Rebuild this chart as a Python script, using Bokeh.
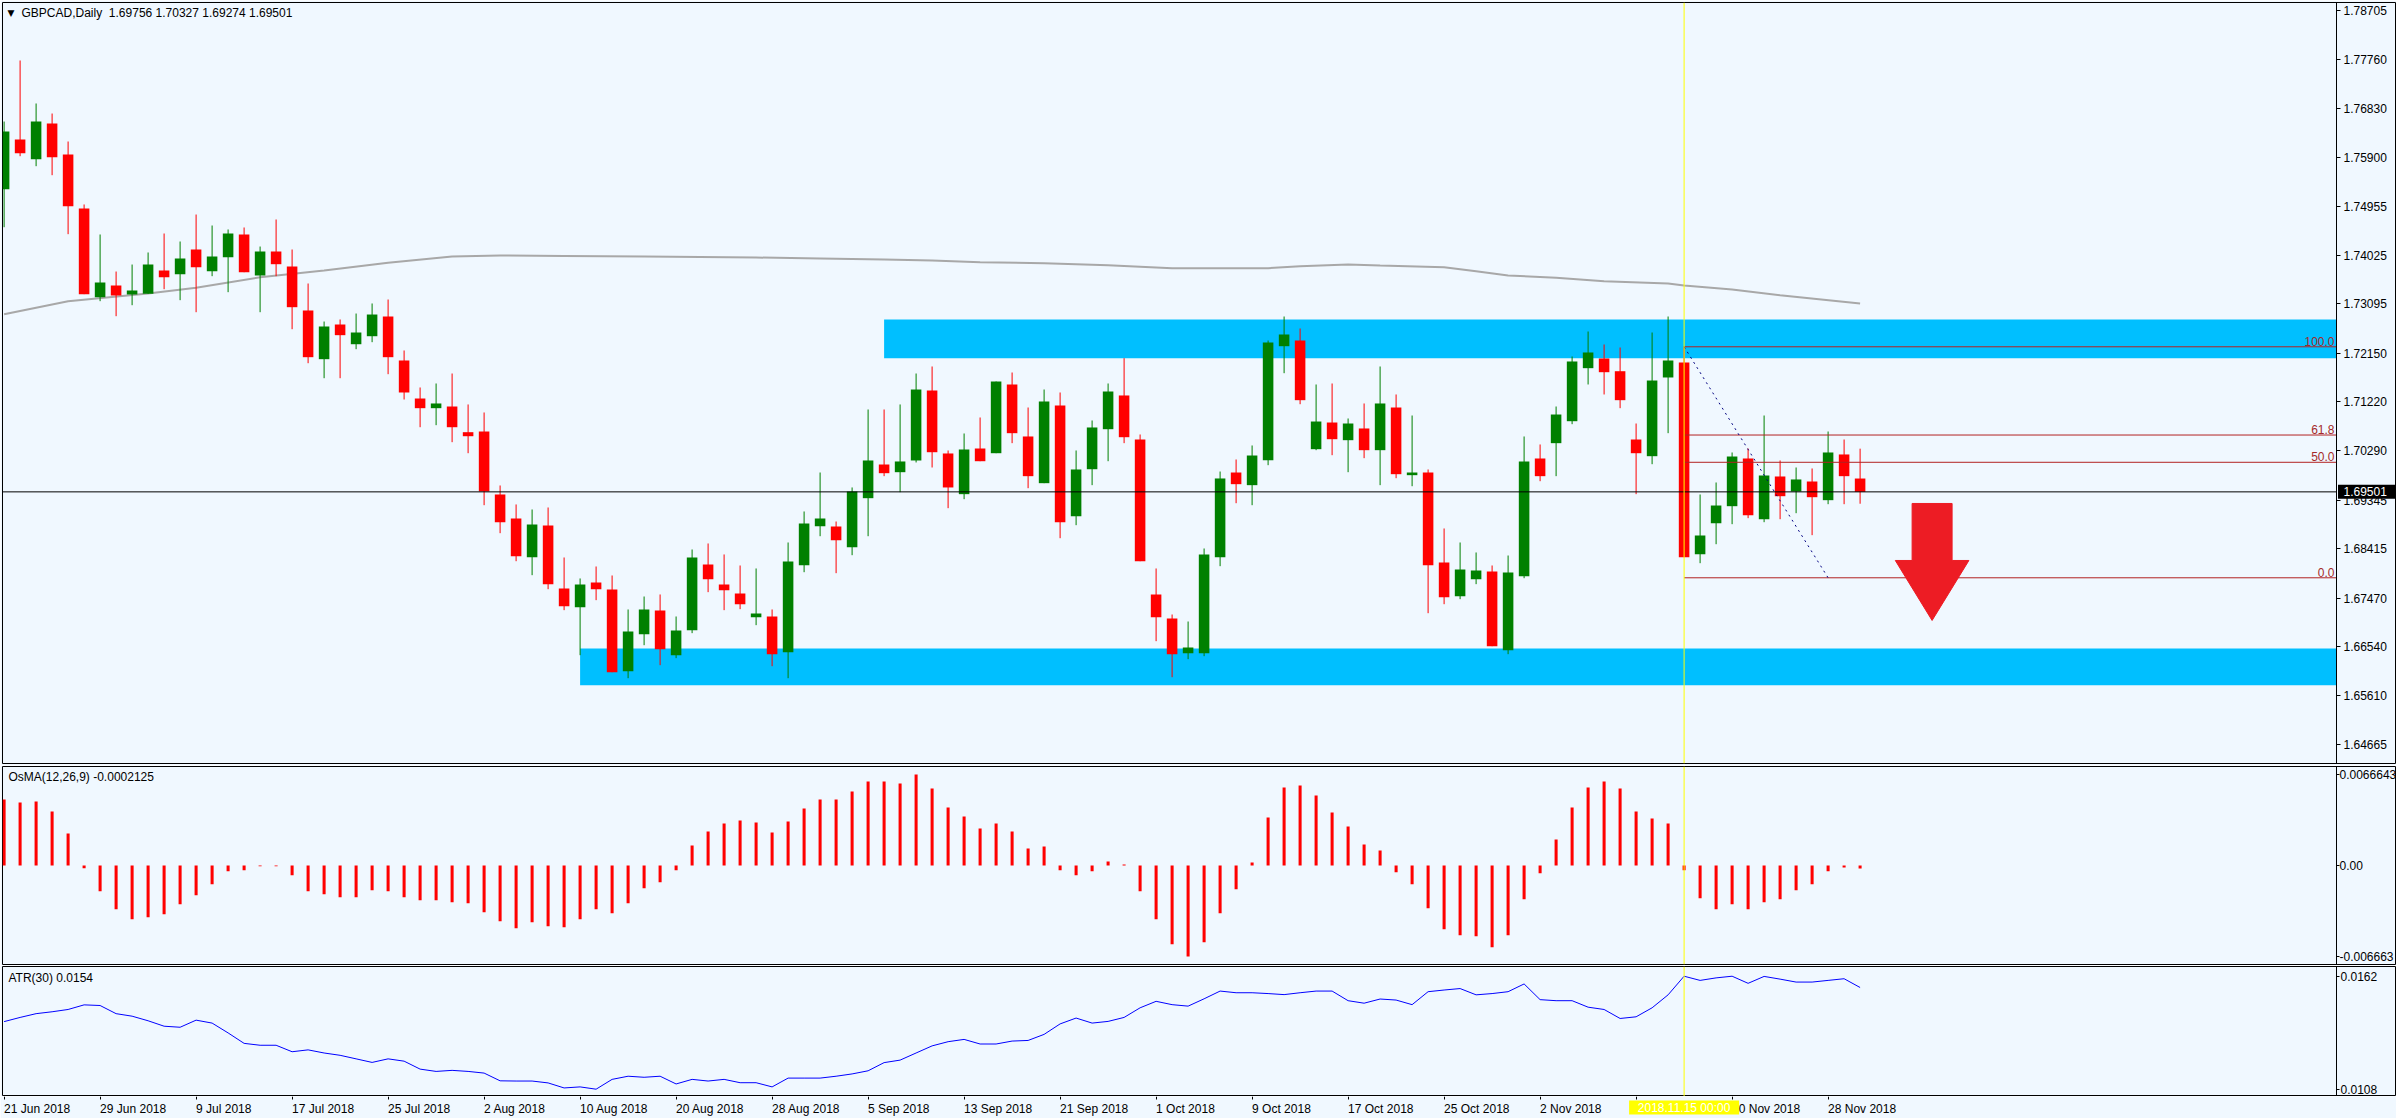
import numpy as np
import pandas as pd
from bokeh.plotting import figure
from bokeh.layouts import column
from bokeh.models import (Range1d, LinearAxis, FixedTicker, Span, Label,
                          PrintfTickFormatter)
from bokeh.embed import file_html
from bokeh.resources import INLINE
from bokeh.core.properties import value

# ---------------- data ----------------
dates = pd.bdate_range("2018-06-21", "2018-11-30")

opens = [1.75288, 1.76238, 1.75862, 1.76544, 1.75952, 1.74919, 1.73223, 1.73447, 1.73275, 1.73288,
         1.73734, 1.73663, 1.74135, 1.73720, 1.73988, 1.74422, 1.73638, 1.74097, 1.73810, 1.72969,
         1.72038, 1.72701, 1.72324, 1.72477, 1.72854, 1.72013, 1.71286, 1.71101, 1.71133, 1.70642,
         1.70655, 1.69451, 1.68992, 1.68252, 1.68858, 1.67653, 1.67296, 1.67768, 1.67634, 1.66072,
         1.66780, 1.67233, 1.66378, 1.66856, 1.68112, 1.67730, 1.67558, 1.67105, 1.67118, 1.66435,
         1.68099, 1.68845, 1.68839, 1.68443, 1.69380, 1.70024, 1.69877, 1.70101, 1.71439, 1.70235,
         1.69457, 1.70330, 1.70240, 1.71554, 1.70560, 1.69667, 1.71152, 1.69036, 1.69934, 1.70699,
         1.71344, 1.70502, 1.67539, 1.67080, 1.66416, 1.66416, 1.68252, 1.69871, 1.69629, 1.70107,
         1.72286, 1.72395, 1.70317, 1.70827, 1.70489, 1.70713, 1.70298, 1.71114, 1.69820, 1.69871,
         1.68151, 1.67506, 1.67831, 1.67978, 1.66474, 1.67889, 1.70139, 1.70432, 1.70852, 1.71866,
         1.72051, 1.71808, 1.70502, 1.70183, 1.71688, 1.71975, 1.68309, 1.68902, 1.69227, 1.70139,
         1.68978, 1.69795, 1.69508, 1.69699, 1.69342, 1.70216, 1.69756]
highs = [1.76582, 1.77749, 1.76927, 1.76735, 1.76200, 1.74996, 1.74422, 1.73714, 1.73848, 1.74078,
         1.74441, 1.74288, 1.74804, 1.74594, 1.74518, 1.74556, 1.74192, 1.74709, 1.74135, 1.73485,
         1.72758, 1.72797, 1.72911, 1.73103, 1.73179, 1.72204, 1.71497, 1.71573, 1.71764, 1.71172,
         1.71019, 1.69623, 1.69260, 1.69164, 1.69202, 1.68246, 1.67845, 1.68074, 1.67902, 1.67252,
         1.67500, 1.67539, 1.67118, 1.68399, 1.68514, 1.68304, 1.68093, 1.68036, 1.67252, 1.68533,
         1.69126, 1.69871, 1.68934, 1.69585, 1.71076, 1.71076, 1.71172, 1.71764, 1.71898, 1.70292,
         1.70617, 1.70923, 1.71611, 1.71783, 1.71114, 1.71458, 1.71401, 1.70292, 1.70866, 1.71573,
         1.72057, 1.70598, 1.68036, 1.67156, 1.67022, 1.68418, 1.69890, 1.70120, 1.70388, 1.72395,
         1.72854, 1.72625, 1.71554, 1.71573, 1.70904, 1.71191, 1.71898, 1.71363, 1.70961, 1.69929,
         1.68801, 1.68533, 1.68342, 1.68093, 1.68284, 1.70560, 1.70407, 1.71133, 1.72089, 1.72567,
         1.72319, 1.72261, 1.70808, 1.72548, 1.72854, 1.72275, 1.69451, 1.69680, 1.70254, 1.70330,
         1.70961, 1.70101, 1.69967, 1.69948, 1.70655, 1.70502, 1.70327]
lows = [1.74561, 1.75919, 1.75728, 1.75556, 1.74428, 1.73281, 1.73147, 1.72860, 1.73070, 1.73288,
        1.73376, 1.73166, 1.72936, 1.73625, 1.73319, 1.73701, 1.72936, 1.73625, 1.72611, 1.71961,
        1.71674, 1.71674, 1.72229, 1.72363, 1.71751, 1.71267, 1.70737, 1.70776, 1.70451, 1.70240,
        1.69246, 1.68711, 1.68175, 1.67908, 1.67640, 1.67239, 1.66378, 1.67430, 1.66053, 1.65938,
        1.66569, 1.66187, 1.66321, 1.66799, 1.67583, 1.67239, 1.67258, 1.66952, 1.66168, 1.65938,
        1.67965, 1.68653, 1.67946, 1.68290, 1.68653, 1.69801, 1.69495, 1.70063, 1.69967, 1.69189,
        1.69361, 1.70087, 1.70240, 1.70432, 1.69571, 1.69667, 1.68615, 1.68864, 1.69629, 1.70087,
        1.70432, 1.68175, 1.66646, 1.65957, 1.66302, 1.66359, 1.68080, 1.69284, 1.69246, 1.70011,
        1.71770, 1.71177, 1.70298, 1.70202, 1.69877, 1.70145, 1.69629, 1.69762, 1.69609, 1.67181,
        1.67353, 1.67449, 1.67736, 1.66550, 1.66397, 1.67850, 1.69705, 1.69801, 1.70795, 1.71554,
        1.71363, 1.71101, 1.69457, 1.70030, 1.70623, 1.68252, 1.68137, 1.68500, 1.68883, 1.68998,
        1.68921, 1.68978, 1.69093, 1.68673, 1.69265, 1.69265, 1.69274]
closes = [1.76391, 1.75976, 1.76582, 1.75900, 1.74963, 1.73281, 1.73504, 1.73256, 1.73351, 1.73848,
          1.73605, 1.73963, 1.73797, 1.74001, 1.74441, 1.73701, 1.74097, 1.73854, 1.73032, 1.72076,
          1.72663, 1.72497, 1.72548, 1.72892, 1.72076, 1.71401, 1.71101, 1.71191, 1.70737, 1.70565,
          1.69508, 1.68921, 1.68271, 1.68877, 1.67736, 1.67315, 1.67730, 1.67640, 1.66053, 1.66831,
          1.67252, 1.66493, 1.66850, 1.68246, 1.67831, 1.67621, 1.67353, 1.67175, 1.66397, 1.68170,
          1.68896, 1.68992, 1.68577, 1.69508, 1.70101, 1.69858, 1.70082, 1.71458, 1.70259, 1.69585,
          1.70311, 1.70087, 1.71611, 1.70623, 1.69801, 1.71229, 1.68921, 1.69929, 1.70732, 1.71420,
          1.70546, 1.68175, 1.67105, 1.66397, 1.66525, 1.68304, 1.69757, 1.69648, 1.70196, 1.72357,
          1.72510, 1.71254, 1.70846, 1.70508, 1.70808, 1.70298, 1.71191, 1.69839, 1.69871, 1.68099,
          1.67487, 1.68017, 1.67998, 1.66550, 1.67959, 1.70082, 1.69801, 1.70980, 1.71994, 1.72166,
          1.71789, 1.71254, 1.70240, 1.71630, 1.72013, 1.68252, 1.68667, 1.69240, 1.70177, 1.69055,
          1.69814, 1.69418, 1.69738, 1.69399, 1.70254, 1.69801, 1.69501]

osma = [0.00483, 0.00461, 0.00469, 0.00395, 0.00234, -0.00020, -0.00188, -0.00320, -0.00393, -0.00379,
        -0.00357, -0.00283, -0.00217, -0.00137, -0.00042, -0.00034, -0.00005, -0.00005, -0.00071, -0.00188,
        -0.00210, -0.00232, -0.00232, -0.00181, -0.00188, -0.00232, -0.00254, -0.00254, -0.00269, -0.00276,
        -0.00342, -0.00408, -0.00459, -0.00415, -0.00445, -0.00452, -0.00393, -0.00320, -0.00349, -0.00276,
        -0.00166, -0.00122, -0.00034, 0.00146, 0.00249, 0.00308, 0.00330, 0.00315, 0.00242, 0.00322,
        0.00417, 0.00483, 0.00483, 0.00542, 0.00615, 0.00615, 0.00600, 0.00666, 0.00564, 0.00425,
        0.00359, 0.00271, 0.00308, 0.00249, 0.00124, 0.00139, -0.00034, -0.00071, -0.00042, 0.00029,
        0.00007, -0.00188, -0.00393, -0.00576, -0.00666, -0.00562, -0.00349, -0.00174, 0.00022, 0.00352,
        0.00571, 0.00586, 0.00513, 0.00388, 0.00286, 0.00154, 0.00110, -0.00049, -0.00137, -0.00313,
        -0.00466, -0.00510, -0.00518, -0.00598, -0.00510, -0.00247, -0.00056, 0.00190, 0.00425, 0.00571,
        0.00615, 0.00564, 0.00395, 0.00344, 0.00308, -0.00034, -0.00239, -0.00320, -0.00283, -0.00320,
        -0.00269, -0.00247, -0.00181, -0.00137, -0.00042, -0.00015, -0.0002125]

atr = [0.01403, 0.01423, 0.01441, 0.01450, 0.01461, 0.01483, 0.01480, 0.01441, 0.01429, 0.01407,
       0.01381, 0.01376, 0.01410, 0.01396, 0.01349, 0.01299, 0.01290, 0.01290, 0.01259, 0.01268,
       0.01253, 0.01242, 0.01225, 0.01208, 0.01225, 0.01214, 0.01176, 0.01165, 0.01170, 0.01165,
       0.01157, 0.01120, 0.01119, 0.01119, 0.01110, 0.01086, 0.01091, 0.01080, 0.01127, 0.01142,
       0.01137, 0.01142, 0.01105, 0.01127, 0.01119, 0.01127, 0.01111, 0.01111, 0.01091, 0.01133,
       0.01133, 0.01133, 0.01142, 0.01153, 0.01168, 0.01207, 0.01219, 0.01253, 0.01287, 0.01307,
       0.01318, 0.01296, 0.01296, 0.01310, 0.01313, 0.01342, 0.01392, 0.01420, 0.01396, 0.01404,
       0.01423, 0.01469, 0.01500, 0.01484, 0.01477, 0.01512, 0.01549, 0.01541, 0.01541, 0.01537,
       0.01532, 0.01541, 0.01549, 0.01549, 0.01503, 0.01491, 0.01511, 0.01506, 0.01484, 0.01546,
       0.01554, 0.01561, 0.01531, 0.01537, 0.01546, 0.01583, 0.01508, 0.01503, 0.01503, 0.01472,
       0.01461, 0.01418, 0.01426, 0.01469, 0.01531, 0.01620, 0.01600, 0.01612, 0.01620, 0.01586,
       0.01619, 0.01606, 0.01592, 0.01592, 0.01600, 0.01608, 0.01566]

# long moving average (read at selected bars)
ma_idx = [0, 4, 9, 12, 16, 20, 24, 28, 31, 35, 40, 47, 51, 55, 58, 61, 65, 69, 73, 79, 81, 84, 86,
          90, 92, 94, 97, 100, 104, 105, 108, 111, 116]
ma_val = [1.72898, 1.73147, 1.73294, 1.73403, 1.73605, 1.73734, 1.73881, 1.74001, 1.74020, 1.74011,
          1.74001, 1.73982, 1.73963, 1.73944, 1.73925, 1.73892, 1.73873, 1.73835, 1.73778, 1.73778,
          1.73816, 1.73848, 1.73829, 1.73797, 1.73720, 1.73638, 1.73594, 1.73529, 1.73485, 1.73447,
          1.73370, 1.73261, 1.73103]

price_ticks = [1.78705, 1.77760, 1.76830, 1.75900, 1.74955, 1.74025, 1.73095, 1.72150, 1.71220,
               1.70290, 1.69345, 1.68415, 1.67470, 1.66540, 1.65610, 1.64665]
osma_ticks = [0.0066643, 0.0, -0.006663]
osma_tick_labels = ["0.0066643", "0.00", "-0.006663"]
atr_ticks = [0.0162, 0.0108]

zone_left = [55, 36]
zone_top = [1.72797, 1.66506]
zone_bottom = [1.72057, 1.65805]

fib_start, fib_end = 105, 114
fib_high, fib_low = 1.72275, 1.67858
fib_levels = [1.0, 0.618, 0.5, 0.0]
fib_labels = ["100.0", "61.8", "50.0", "0.0"]

arrow_x, arrow_top, arrow_neck, arrow_tip = 120.5, 1.69279, 1.68189, 1.67042
cursor_idx = 105
cursor_text = "2018.11.15 00:00"
osma_title = "OsMA(12,26,9) -0.0002125"
atr_title = "ATR(30) 0.0154"

tick_idx = list(range(0, len(dates), 6))
tick_labels = [f"{dates[i].day} {dates[i].strftime('%b')} {dates[i].year}" for i in tick_idx]

# ---------------- styles / layout ----------------
BG = "#F0F8FF"
FONT = "Liberation Sans"
FS = "12px"
PXB = 16.0                       # pixels per bar
X0 = -0.1
FULL_W = 2394                    # every panel's frame runs under its price scale
X_AX = X0 + 2334 / PXB           # where the price scales sit
X1 = X0 + FULL_W / PXB
MAIN_Y = (1.64307, 1.78858)
MAIN_H = 761
PX_PRICE = (MAIN_Y[1] - MAIN_Y[0]) / MAIN_H
GREEN, RED = "#008000", "#FF0000"
FIB_C = "#A52A2A"

idx = np.arange(len(opens))
o, h, l, c = map(np.array, (opens, highs, lows, closes))
cols = [GREEN if cc >= oo else RED for oo, cc in zip(o, c)]
x_shared = Range1d(X0, X1)


def scale_axis(ticks, tick_out, standoff, **kw):
    return LinearAxis(fixed_location=X_AX, ticker=FixedTicker(ticks=ticks, minor_ticks=[]),
                      major_tick_in=0, major_tick_out=tick_out, minor_tick_in=0, minor_tick_out=0,
                      axis_line_color="black", major_tick_line_color="black",
                      major_label_text_font=FONT, major_label_text_font_size=FS,
                      major_label_text_color="black", major_label_standoff=standoff, **kw)


def make_fig(frame_h, yr, top, bottom, outline="black"):
    p = figure(frame_width=FULL_W, frame_height=frame_h,
               x_range=x_shared, y_range=Range1d(*yr),
               output_backend="svg", toolbar_location=None,
               x_axis_location=None, y_axis_location=None,
               min_border_left=2, min_border_right=0,
               min_border_top=top, min_border_bottom=bottom,
               background_fill_color=BG, border_fill_color=BG,
               outline_line_color=outline, outline_line_width=1)
    p.xgrid.visible = False
    p.ygrid.visible = False
    return p


# ---------- main price panel ----------
p1 = make_fig(MAIN_H, MAIN_Y, 2, 2)
p1.add_layout(scale_axis(price_ticks, 4, 3, formatter=PrintfTickFormatter(format="%.5f")), "right")

p1.quad(left=zone_left, right=[X_AX] * len(zone_left), top=zone_top, bottom=zone_bottom,
        fill_color="#00BFFF", line_color=None)
p1.line(ma_idx, ma_val, line_color="#A8A8A8", line_width=2)

p1.segment(x0=idx, y0=l, x1=idx, y1=h, line_color=cols, line_width=1)
p1.vbar(x=idx, width=0.66, top=np.maximum(o, c), bottom=np.minimum(o, c),
        fill_color=cols, line_color=None)

fib_prices = [fib_low + lv * (fib_high - fib_low) for lv in fib_levels]
p1.segment(x0=[fib_start] * 4, y0=fib_prices, x1=[X_AX] * 4, y1=fib_prices,
           line_color="#B22222", line_width=1)
p1.text(x=[X_AX] * 4, y=fib_prices, text=fib_labels, text_align="right", text_baseline="bottom",
        x_offset=-2, y_offset=-1, text_font=value(FONT), text_font_size=FS, text_color=FIB_C)
p1.line([fib_start, fib_end], [fib_high, fib_low], line_color="#000080", line_width=1,
        line_dash="2 4")

sw, hw = 1.25, 2.3
p1.patch([arrow_x - sw, arrow_x + sw, arrow_x + sw, arrow_x + hw, arrow_x, arrow_x - hw, arrow_x - sw],
         [arrow_top, arrow_top, arrow_neck, arrow_neck, arrow_tip, arrow_neck, arrow_neck],
         fill_color="#ED1C24", line_color="#ED1C24")

# bid line and its price box on the scale
p1.segment(x0=[X0], y0=[closes[-1]], x1=[X_AX], y1=[closes[-1]], line_color="black", line_width=1)
bh = 7 * PX_PRICE
p1.quad(left=[X_AX + 1.5 / PXB], right=[X_AX + 58.5 / PXB], top=[closes[-1] + bh],
        bottom=[closes[-1] - bh], fill_color="black", line_color=None, level="overlay")
p1.text(x=[X_AX], y=[closes[-1]], text=[f"{closes[-1]:.5f}"], x_offset=7, text_align="left",
        text_baseline="middle", text_font=value(FONT), text_font_size=FS, text_color="white",
        level="overlay")

p1.segment(x0=[cursor_idx], y0=[MAIN_Y[0]], x1=[cursor_idx], y1=[MAIN_Y[1]],
           line_color="#FFFF00", line_width=1)

title = f"GBPCAD,Daily\u00a0\u00a0{opens[-1]:.5f} {highs[-1]:.5f} {lows[-1]:.5f} {closes[-1]:.5f}"
p1.add_layout(Label(x=19, y=751, x_units="screen", y_units="screen", text=title,
                    text_font=FONT, text_font_size=FS, text_color="black", text_baseline="middle"))
p1.add_layout(Label(x=5, y=751, x_units="screen", y_units="screen", text="\u25bc",
                    text_font="DejaVu Sans", text_font_size="9px", text_color="black",
                    text_baseline="middle"))

# ---------- OsMA panel ----------
OSMA_Y = (-0.00725, 0.00725)
p2 = make_fig(198, OSMA_Y, 1, 1)
p2.add_layout(scale_axis(osma_ticks, 3, 0,
                         major_label_overrides={t: s for t, s in zip(osma_ticks, osma_tick_labels)}),
              "right")
p2.vbar(x=idx, width=0.19, top=osma, bottom=0, fill_color=RED, line_color=None)
p2.segment(x0=[cursor_idx], y0=[OSMA_Y[0]], x1=[cursor_idx], y1=[OSMA_Y[1]],
           line_color="#FFFF00", line_width=1)
p2.add_layout(Label(x=6, y=187.5, x_units="screen", y_units="screen", text=osma_title,
                    text_font=FONT, text_font_size=FS, text_color="black", text_baseline="middle"))

# ---------- ATR panel ----------
ATR_Y = (0.010451, 0.016664)
p3 = make_fig(130, ATR_Y, 1, 0)
p3.add_layout(scale_axis(atr_ticks, 3, 1, formatter=PrintfTickFormatter(format="%.4f")), "right")
p3.line(idx, atr, line_color="#0000FF", line_width=1)
p3.segment(x0=[cursor_idx], y0=[ATR_Y[0]], x1=[cursor_idx], y1=[ATR_Y[1]],
           line_color="#FFFF00", line_width=1)
p3.add_layout(Label(x=6, y=118.5, x_units="screen", y_units="screen", text=atr_title,
                    text_font=FONT, text_font_size=FS, text_color="black", text_baseline="middle"))

# ---------- time scale row ----------
ROW_H = 22
p4 = make_fig(ROW_H, (0, ROW_H), 0, 0, outline=None)

CW = {' ': 278, '.': 278, 'J': 500, 'u': 556, 'n': 556, 'l': 222, 'A': 667, 'g': 556, 'S': 667,
      'e': 556, 'p': 556, 'O': 778, 'c': 500, 't': 278, 'N': 722, 'o': 556, 'v': 500}


def text_w(s):
    return sum(CW.get(ch, 556) for ch in s) * 12 / 1000.0


# labels start at their tick (MT4 style): centre each label half its width right of the tick
label_pos = [round(t + text_w(s) / 2 / PXB, 4) for t, s in zip(tick_idx, tick_labels)]

ax_t = LinearAxis(fixed_location=ROW_H, ticker=FixedTicker(ticks=tick_idx, minor_ticks=[]),
                  major_label_overrides={t: "" for t in tick_idx},
                  major_label_text_font_size="1px", major_label_standoff=0,
                  major_tick_out=3, major_tick_in=0, minor_tick_out=0, minor_tick_in=0,
                  axis_line_color=None, major_tick_line_color="black")
ax_l = LinearAxis(fixed_location=ROW_H, ticker=FixedTicker(ticks=label_pos, minor_ticks=[]),
                  major_label_overrides={t: s for t, s in zip(label_pos, tick_labels)},
                  major_label_text_font=FONT, major_label_text_font_size=FS,
                  major_label_text_color="black", major_label_standoff=5,
                  major_tick_out=0, major_tick_in=0, minor_tick_out=0, minor_tick_in=0,
                  axis_line_color=None)
p4.add_layout(ax_t, "below")
p4.add_layout(ax_l, "below")

# crosshair date box
p4.quad(left=[cursor_idx - 55 / PXB], right=[cursor_idx + 55 / PXB], top=[ROW_H - 4],
        bottom=[ROW_H - 18], fill_color="#FFFF00", line_color=None, level="overlay")
p4.text(x=[cursor_idx], y=[ROW_H - 11], text=[cursor_text], text_align="center",
        text_baseline="middle", text_font=value(FONT), text_font_size=FS, text_color="white",
        level="overlay")

layout = column(p1, p2, p3, p4, spacing=0)
open("out.html", "w").write(file_html(layout, INLINE))
